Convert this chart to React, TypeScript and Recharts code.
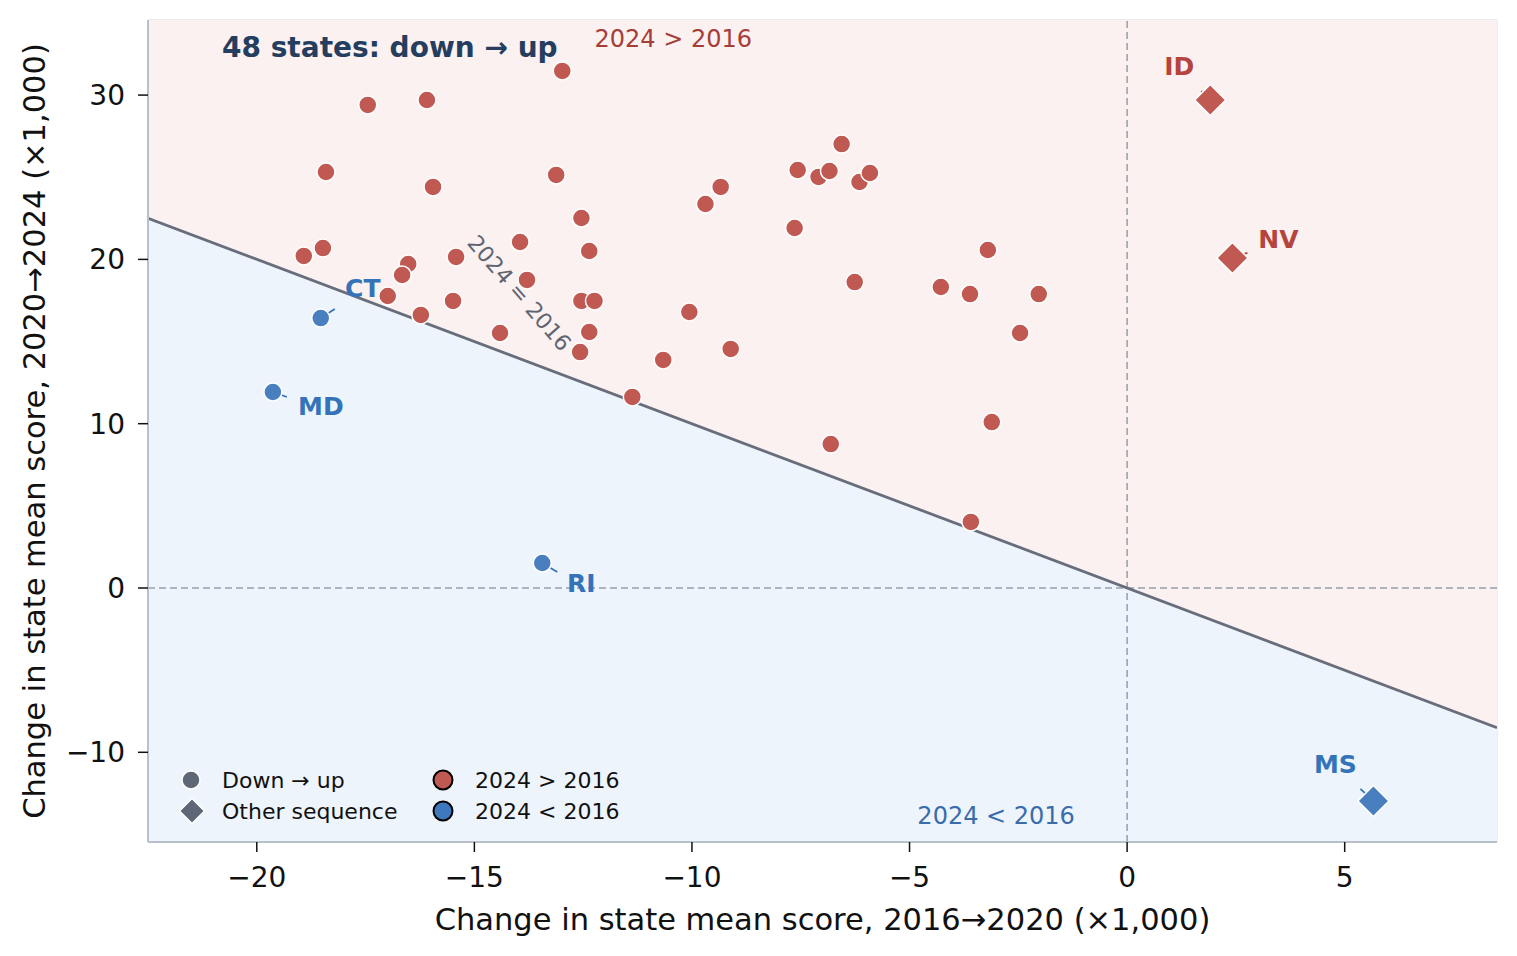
import React from 'react'
import { ComposedChart, Area, Line, Scatter, XAxis, YAxis, CartesianGrid, ReferenceLine } from 'recharts'

// axis ranges and ticks (×1,000)
const X_DOMAIN: [number, number] = [-22.5, 8.5]
const Y_DOMAIN: [number, number] = [-15.46, 34.57]
const xTicks = [-20, -15, -10, -5, 0, 5]
const yTicks = [-10, 0, 10, 20, 30]

// 2024 = 2016 boundary (x + y = 0) at the edges of the x range
const boundary = [
  { x: -22.5, y: 22.5 },
  { x: 8.5, y: -8.5 },
]

// down → up states that ended above 2016
const risingStates = [
  { x: -12.98, y: 31.47 }, { x: -17.45, y: 29.4 }, { x: -16.09, y: 29.7 }, { x: -18.41, y: 25.32 },
  { x: -13.12, y: 25.14 }, { x: -15.95, y: 24.41 }, { x: -6.56, y: 27.02 }, { x: -7.57, y: 25.44 },
  { x: -7.09, y: 25.02 }, { x: -6.84, y: 25.38 }, { x: -6.15, y: 24.71 }, { x: -5.91, y: 25.26 },
  { x: -9.34, y: 24.41 }, { x: -9.69, y: 23.37 }, { x: -12.54, y: 22.52 }, { x: -7.64, y: 21.91 },
  { x: -13.95, y: 21.06 }, { x: -18.48, y: 20.69 }, { x: -18.92, y: 20.21 }, { x: -12.36, y: 20.51 },
  { x: -15.42, y: 20.15 }, { x: -16.52, y: 19.72 }, { x: -16.66, y: 19.05 }, { x: -3.2, y: 20.57 },
  { x: -13.79, y: 18.75 }, { x: -6.26, y: 18.62 }, { x: -16.99, y: 17.77 }, { x: -15.49, y: 17.47 },
  { x: -12.54, y: 17.47 }, { x: -12.24, y: 17.47 }, { x: -4.28, y: 18.32 }, { x: -3.61, y: 17.89 },
  { x: -2.03, y: 17.89 }, { x: -16.23, y: 16.62 }, { x: -10.06, y: 16.8 }, { x: -14.41, y: 15.52 },
  { x: -12.36, y: 15.58 }, { x: -2.46, y: 15.52 }, { x: -9.11, y: 14.55 }, { x: -12.57, y: 14.36 },
  { x: -10.66, y: 13.88 }, { x: -11.37, y: 11.63 }, { x: -3.11, y: 10.1 }, { x: -6.81, y: 8.76 },
  { x: -3.59, y: 4.02 },
]

// down → up states still below 2016
const fallingStates = [
  { state: 'CT', x: -18.53, y: 16.43 },
  { state: 'MD', x: -19.63, y: 11.93 },
  { state: 'RI', x: -13.44, y: 1.52 },
]

// states with some other sequence
const otherAbove = [
  { state: 'ID', x: 1.91, y: 29.7 },
  { state: 'NV', x: 2.42, y: 20.09 },
]
const otherBelow = [{ state: 'MS', x: 5.66, y: -12.96 }]

// label offsets in pixels: text centre (dx, dy), leader end (lx, ly)
const labelPlacement: Record<string, { dx: number; dy: number; lx: number; ly: number }> = {
  CT: { dx: 42, dy: -30, lx: 14, ly: -9 },
  MD: { dx: 48, dy: 15, lx: 14, ly: 5 },
  RI: { dx: 39, dy: 20, lx: 15, ly: 9 },
  ID: { dx: -31, dy: -34, lx: -9, ly: -9 },
  NV: { dx: 46, dy: -18, lx: 15, ly: -5 },
  MS: { dx: -38, dy: -36, lx: -13, ly: -12 },
}

const notes = [
  { x: -20.8, y: 32.87, text: '48 states: down → up', kind: 'title' },
  { x: -10.43, y: 33.41, text: '2024 > 2016', kind: 'up' },
  { x: -3.01, y: -13.88, text: '2024 < 2016', kind: 'down' },
  { x: -13.97, y: 17.95, text: '2024 = 2016', kind: 'diag' },
]

const FONT = '"DejaVu Sans", Verdana, sans-serif'
const RED = '#bf5952'
const BLUE = '#4a7fbf'
const RED_TEXT = '#b5443f'
const BLUE_TEXT = '#3573b9'
const GRAY_MARK = '#5d6776'
const DOT_R = 9

const circleShape = (color: string) => (p: any) =>
  <circle cx={p.cx} cy={p.cy} r={DOT_R} fill={color} stroke="#fff" strokeWidth={1.5} />

function diamondPoints(cx: number, cy: number, h: number) {
  return `${cx},${cy - h} ${cx + h},${cy} ${cx},${cy + h} ${cx - h},${cy}`
}

const labeledShape = (color: string, textColor: string, kind: 'circle' | 'diamond') => (p: any) => {
  const { cx, cy, payload } = p
  const pl = labelPlacement[payload.state]
  return (
    <g>
      <line x1={cx} y1={cy} x2={cx + pl.lx} y2={cy + pl.ly} stroke={textColor} strokeWidth={1.8} />
      {kind === 'circle' ? (
        <circle cx={cx} cy={cy} r={DOT_R} fill={color} stroke="#fff" strokeWidth={1.5} />
      ) : (
        <polygon points={diamondPoints(cx, cy, 15.5)} fill={color} stroke="#fff" strokeWidth={1.5} />
      )}
      <text x={cx + pl.dx} y={cy + pl.dy} textAnchor="middle" dominantBaseline="central"
        fontFamily={FONT} fontWeight="bold" fontSize={25} fill={textColor}>
        {payload.state}
      </text>
    </g>
  )
}

const noteShape = (p: any) => {
  const { cx, cy, payload } = p
  if (payload.kind === 'title') {
    return <text x={cx} y={cy} dominantBaseline="central" fontFamily={FONT} fontWeight="bold" fontSize={28} fill="#253d5e">{payload.text}</text>
  }
  if (payload.kind === 'diag') {
    return <text x={cx} y={cy} textAnchor="middle" dominantBaseline="central" fontFamily={FONT} fontSize={22} fill="#5f6570"
      transform={`rotate(49 ${cx} ${cy})`}>{payload.text}</text>
  }
  return <text x={cx} y={cy} textAnchor="middle" dominantBaseline="central" fontFamily={FONT} fontSize={24}
    fill={payload.kind === 'up' ? '#a63d38' : '#3a6cab'}>{payload.text}</text>
}

const XTitle = (props: any) => {
  const vb = props.viewBox
  return <text x={vb.x + vb.width / 2} y={vb.y + 88} textAnchor="middle" fontFamily={FONT} fontSize={30.5} fill="#111">
    Change in state mean score, 2016→2020 (×1,000)
  </text>
}

const YTitle = (props: any) => {
  const vb = props.viewBox
  const cy = vb.y + vb.height / 2
  return <text x={45} y={cy} textAnchor="middle" fontFamily={FONT} fontSize={30.5} fill="#111" transform={`rotate(-90 45 ${cy})`}>
    Change in state mean score, 2020→2024 (×1,000)
  </text>
}

const fmt = (v: number) => (v < 0 ? `−${Math.abs(v)}` : `${v}`)

function LegendOverlay() {
  const t = { fontFamily: FONT, fontSize: 22, fill: '#111' }
  return (
    <svg width={480} height={85} style={{ position: 'absolute', left: 160, top: 750 }}>
      <circle cx={31} cy={30} r={9} fill={GRAY_MARK} stroke="#fff" strokeWidth={1.5} />
      <text x={62} y={30} dominantBaseline="central" {...t}>Down → up</text>
      <polygon points={diamondPoints(32, 61, 12.5)} fill={GRAY_MARK} stroke="#fff" strokeWidth={1.5} />
      <text x={62} y={61} dominantBaseline="central" {...t}>Other sequence</text>
      <circle cx={283} cy={30} r={9.5} fill={RED} stroke="#000" strokeWidth={2} />
      <text x={315} y={30} dominantBaseline="central" {...t}>2024 &gt; 2016</text>
      <circle cx={283} cy={61} r={9.5} fill="#3e78bd" stroke="#000" strokeWidth={2} />
      <text x={315} y={61} dominantBaseline="central" {...t}>2024 &lt; 2016</text>
    </svg>
  )
}

export default function App() {
  const tick = { fontFamily: FONT, fontSize: 28, fill: '#111' }
  return (
    <div style={{ position: 'relative', width: 1517, height: 956, background: '#fff' }}>
      <style>{'body{margin:0}'}</style>
      <ComposedChart width={1517} height={956} data={boundary} margin={{ top: 20, right: 20, left: 0, bottom: 0 }}>
        <Area dataKey={(d: any) => [d.y, Y_DOMAIN[1]]} type="linear" stroke="none" fill="#fbf1f0" fillOpacity={1} isAnimationActive={false} />
        <Area dataKey={(d: any) => [Y_DOMAIN[0], d.y]} type="linear" stroke="none" fill="#edf4fc" fillOpacity={1} isAnimationActive={false} />
        <CartesianGrid stroke="#e2e5ea" strokeWidth={1.3} />
        <XAxis dataKey="x" type="number" domain={X_DOMAIN} ticks={xTicks} allowDataOverflow height={114}
          tickFormatter={fmt} tick={tick} tickSize={10} tickMargin={15}
          axisLine={{ stroke: '#b8c0cc', strokeWidth: 2 }} tickLine={{ stroke: '#111', strokeWidth: 1.5 }}
          label={<XTitle />} />
        <YAxis dataKey="y" type="number" domain={Y_DOMAIN} ticks={yTicks} allowDataOverflow width={148}
          tickFormatter={fmt} tick={tick} tickSize={10} tickMargin={13}
          axisLine={{ stroke: '#b8c0cc', strokeWidth: 2 }} tickLine={{ stroke: '#111', strokeWidth: 1.5 }}
          label={<YTitle />} />
        <ReferenceLine x={0} stroke="#979ea8" strokeWidth={1.5} strokeDasharray="7 4" />
        <ReferenceLine y={0} stroke="#979ea8" strokeWidth={1.5} strokeDasharray="7 4" />
        <Line dataKey="y" type="linear" stroke="#686d7c" strokeWidth={2.8} dot={false} activeDot={false} isAnimationActive={false} />
        <Scatter data={notes} shape={noteShape} isAnimationActive={false} />
        <Scatter data={risingStates} shape={circleShape(RED)} isAnimationActive={false} />
        <Scatter data={fallingStates} shape={labeledShape(BLUE, BLUE_TEXT, 'circle')} isAnimationActive={false} />
        <Scatter data={otherAbove} shape={labeledShape(RED, RED_TEXT, 'diamond')} isAnimationActive={false} />
        <Scatter data={otherBelow} shape={labeledShape(BLUE, BLUE_TEXT, 'diamond')} isAnimationActive={false} />
      </ComposedChart>
      <LegendOverlay />
    </div>
  )
}
